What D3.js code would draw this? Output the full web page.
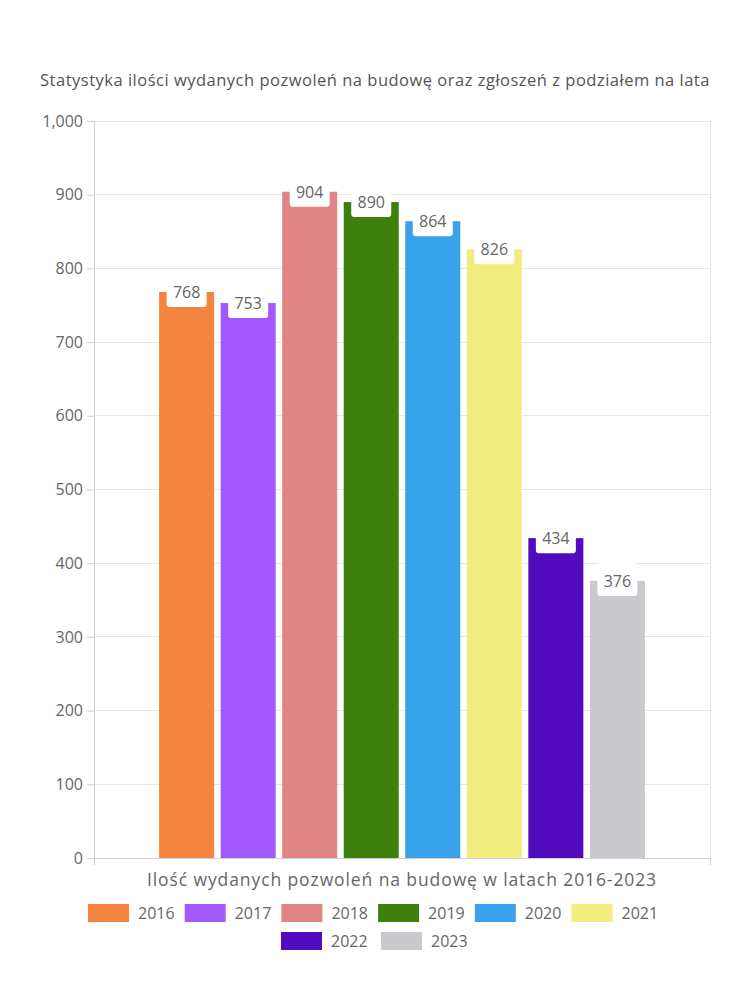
<!DOCTYPE html>
<html><head><meta charset="utf-8">
<script src="https://cdn.jsdelivr.net/npm/d3@7"></script>
<style>body{margin:0;background:#fff;} svg{display:block;font-family:"Open Sans",sans-serif;}</style>
</head><body>
<svg id="c" width="750" height="1000"></svg>
<script>
const years = ["2016","2017","2018","2019","2020","2021","2022","2023"];
const values = [768, 753, 904, 890, 864, 826, 434, 376];
const colors = ["#F4843F","#A259FF","#E08484","#3F7F0C","#38A3EA","#F0EC7E","#520ABF","#CACACE"];
const yTicks = [0,100,200,300,400,500,600,700,800,900,1000];
const title = "Statystyka ilości wydanych pozwoleń na budowę oraz zgłoszeń z podziałem na lata";
const xTitle = "Ilość wydanych pozwoleń na budowę w latach 2016-2023";
const category = ["Ilość"];

const svg = d3.select("#c");
const L = 94, R = 710, T = 121, B = 858;
const y = d3.scaleLinear().domain([0,1000]).range([B,T]);
const x0 = d3.scaleBand().domain(category).range([L,R]).paddingInner(0).paddingOuter(0.134);
const x1 = d3.scaleBand().domain(years).range([x0(category[0]), x0(category[0]) + x0.bandwidth()]).paddingInner(0.106);

svg.append("text").attr("x", 375).attr("y", 86).attr("text-anchor","middle")
  .attr("font-size", 16.5).attr("letter-spacing", 0.5).attr("fill","#555").text(title);

// grid
svg.append("g").selectAll("line").data(yTicks.filter(d=>d>0)).join("line")
  .attr("x1", L).attr("x2", R).attr("y1", d=>y(d)).attr("y2", d=>y(d))
  .attr("stroke","#e6e6e6").attr("stroke-width",1).attr("shape-rendering","crispEdges");
svg.append("line").attr("x1",R).attr("x2",R).attr("y1",T).attr("y2",B+7).attr("stroke","#e6e6e6").attr("shape-rendering","crispEdges");

// y axis
const ya = svg.append("g").attr("transform",`translate(${L},0)`)
  .call(d3.axisLeft(y).tickValues(yTicks).tickSize(7).tickPadding(4).tickFormat(d3.format(",")));
ya.select(".domain").attr("stroke","#d0d0d0");
ya.selectAll(".tick line").attr("stroke","#d0d0d0");
ya.selectAll(".tick text").attr("font-size",16).attr("fill","#666").attr("font-family","Open Sans, sans-serif");

// x axis
const xa = svg.append("g").attr("transform",`translate(0,${B})`)
  .call(d3.axisBottom(d3.scaleLinear().domain([0,1]).range([L,R])).tickValues([0,1]).tickSize(7).tickFormat(""));
xa.select(".domain").attr("stroke","#d0d0d0");
xa.selectAll(".tick line").attr("stroke","#d0d0d0");

// bars
const g = svg.append("g");
g.selectAll("rect").data(years).join("rect")
  .attr("x", d=>x1(d)).attr("width", x1.bandwidth())
  .attr("y", (d,i)=>y(values[i])).attr("height",(d,i)=>B - y(values[i]))
  .attr("fill",(d,i)=>colors[i]);

// labels
const lab = svg.append("g").selectAll("g").data(years).join("g")
  .attr("transform",(d,i)=>`translate(${x1(d)+x1.bandwidth()/2},${y(values[i])})`);
lab.append("rect").attr("x",-20).attr("width",40).attr("y",-18).attr("height",33).attr("rx",3).attr("fill","#fff");
lab.append("text").attr("text-anchor","middle").attr("y",6).attr("font-size",16).attr("fill","#666")
  .text((d,i)=>values[i]);

// x title
svg.append("text").attr("x",402).attr("y",886).attr("text-anchor","middle").attr("font-size",17.5).attr("letter-spacing",0.9).attr("fill","#666").text(xTitle);

// legend
const rows = [years.slice(0,6), years.slice(6)];
const rowStarts = [88, 281];
const pitch = 96.7;
rows.forEach((row, r) => {
  const lg = svg.append("g").attr("transform",`translate(${rowStarts[r]},${904 + r*28})`);
  const it = lg.selectAll("g").data(row).join("g").attr("transform",(d,i)=>`translate(${i*(r===0?pitch:100)},0)`);
  it.append("rect").attr("width",41).attr("height",18).attr("fill",d=>colors[years.indexOf(d)]);
  it.append("text").attr("x",50).attr("y",15).attr("font-size",16).attr("fill","#666").text(d=>d);
});
</script>
</body></html>
